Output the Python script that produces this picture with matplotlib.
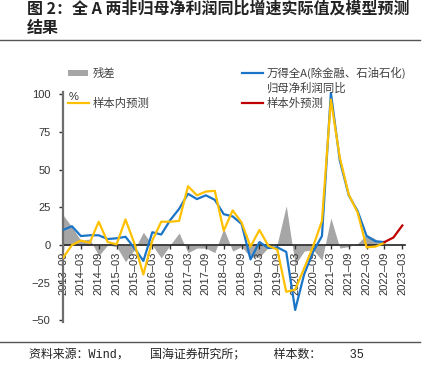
import matplotlib
matplotlib.use("Agg")
import matplotlib.pyplot as plt
from matplotlib.lines import Line2D
from matplotlib.patches import Rectangle

plt.rcParams['font.family'] = ['Liberation Sans', 'Noto Sans CJK SC', 'DejaVu Sans']
plt.rcParams['axes.unicode_minus'] = True

# ---------------- data ----------------
quarters = ['2013-09', '2013-12', '2014-03', '2014-06', '2014-09', '2014-12',
            '2015-03', '2015-06', '2015-09', '2015-12', '2016-03', '2016-06',
            '2016-09', '2016-12', '2017-03', '2017-06', '2017-09', '2017-12',
            '2018-03', '2018-06', '2018-09', '2018-12', '2019-03', '2019-06',
            '2019-09', '2019-12', '2020-03', '2020-06', '2020-09', '2020-12',
            '2021-03', '2021-06', '2021-09', '2021-12', '2022-03', '2022-06',
            '2022-09', '2022-12', '2023-03']

actual = [10, 12.5, 6, 6.5, 6.5, 4, 4.5, 5.5, -2, -10.5, 8.5, 7,
          16.5, 24, 34, 30.5, 33, 30, 20.5, 19, 14, -9.5, 2, -2,
          -1.5, -4.5, -43, -19.5, -4.5, 6, 101, 56, 33, 22.5, 6, 2.5, 2]

in_sample = [-8.5, 0, 3, 1.5, 15.5, 2, 0.5, 17, 1, -19.5, 3, 15.5,
             15.5, 16, 39, 33, 35.5, 36, 9.5, 23, 15, -1, 10, -0.5,
             -3, -31, -29.5, -15.5, -1, 16, 96.5, 58, 33.5, 21.5, -1.5, -1, 1.5]

residual = [20, 12, 3, 4, -7, 0, -1, -11, -3, 8.5, 0, -8.5,
            0, 8, -5, -2, -2, -5, 11, -4, -1, -8, -8, -1.5,
            1, 26, -13, -4, -3, -10, 18, -2, -1, 1, 7, 4, 0]

out_quarters = ['2022-09', '2022-12', '2023-03']
out_sample = [2, 5, 13]

tick_labels = ['2013-09', '2014-03', '2014-09', '2015-03', '2015-09', '2016-03',
               '2016-09', '2017-03', '2017-09', '2018-03', '2018-09', '2019-03',
               '2019-09', '2020-03', '2020-09', '2021-03', '2021-09', '2022-03',
               '2022-09', '2023-03']
y_ticks = [-50, -25, 0, 25, 50, 75, 100]

# ---------------- figure ----------------
W, H = 434, 370
fig = plt.figure(figsize=(W / 100, H / 100), dpi=100)
ax = fig.add_axes([63 / W, 1 - 322 / H, (405 - 63) / W, (322 - 92) / H])

pos = {q: i for i, q in enumerate(quarters)}
x_act = [pos[q] for q in quarters[:len(actual)]]
x_out = [pos[q] for q in out_quarters]

ax.fill_between(x_act, 0, residual, color='#a6a6a6', linewidth=0, zorder=1)
ax.plot(x_act, actual, color='#1a75c9', lw=1.6, zorder=3)
ax.plot(x_act, in_sample, color='#ffc000', lw=1.6, zorder=4)
ax.plot(x_out, out_sample, color='#c00000', lw=1.6, zorder=4)

ax.set_xlim(0, 38.3)
ax.set_ylim(-51, 101.5)

for s in ['top', 'right']:
    ax.spines[s].set_visible(False)
ax.spines['left'].set_color('#6e6e6e')
ax.spines['left'].set_linewidth(1.6)
ax.spines['bottom'].set_position(('data', 0))
ax.spines['bottom'].set_color('#222222')
ax.spines['bottom'].set_linewidth(1.2)
ax.spines['bottom'].set_zorder(2)

ax.set_yticks(y_ticks)
ax.set_yticklabels([str(v).replace('-', '\u2212') for v in y_ticks])
ax.tick_params(axis='y', length=3, width=1, color='#333333', pad=6,
               labelsize=8, labelcolor='#333333')

tick_pos = [pos[q] for q in tick_labels]
ax.set_xticks(tick_pos)
ax.set_xticklabels([t.replace('-', '\u2013') for t in tick_labels], rotation=90)
ax.tick_params(axis='x', length=3, width=1, color='#333333', pad=1.5,
               labelsize=8, labelcolor='#333333')

ax.text(0.6, 101.5, '%', fontsize=8, color='#333333', ha='left', va='top')

# ---------------- legend (manual) ----------------
cjk = ['Noto Sans CJK SC', 'DejaVu Sans']
mono = ['Liberation Mono', 'Noto Sans CJK SC', 'DejaVu Sans']
def fx(px):
    return px / W
def fy(py):
    return 1 - py / H

LFS = 8.2
fig.add_artist(Rectangle((fx(68), fy(76)), (88 - 68) / W, 6 / H,
                         transform=fig.transFigure, color='#a6a6a6', lw=0))
fig.text(fx(93), fy(73), '残差', family=cjk, fontsize=LFS, color='#404040', va='center')
fig.add_artist(Line2D([fx(68), fx(89)], [fy(103), fy(103)], color='#ffc000', lw=1.6,
                      transform=fig.transFigure))
fig.text(fx(93), fy(103), '样本内预测', family=cjk, fontsize=LFS, color='#404040', va='center')

fig.add_artist(Line2D([fx(242), fx(263)], [fy(73), fy(73)], color='#1a75c9', lw=1.6,
                      transform=fig.transFigure))
fig.text(fx(267), fy(73), '万得全A(除金融、石油石化)', family=cjk, fontsize=LFS,
         color='#404040', va='center')
fig.text(fx(267), fy(88), '归母净利润同比', family=cjk, fontsize=LFS,
         color='#404040', va='center')
fig.add_artist(Line2D([fx(242), fx(263)], [fy(103), fy(103)], color='#c00000', lw=1.6,
                      transform=fig.transFigure))
fig.text(fx(267), fy(103), '样本外预测', family=cjk, fontsize=LFS, color='#404040', va='center')

# ---------------- title / footer ----------------
fig.text(fx(27), fy(9), '图 2：全 A 两非归母净利润同比增速实际值及模型预测',
         family=cjk, fontsize=11.5, fontweight='bold', color='#222222', va='center')
fig.text(fx(27), fy(28), '结果', family=cjk, fontsize=11.5, fontweight='bold',
         color='#222222', va='center')
fig.add_artist(Line2D([0, fx(420)], [fy(40), fy(40)], color='#555555', lw=1.0,
                      transform=fig.transFigure))
fig.add_artist(Line2D([0, fx(420)], [fy(342), fy(342)], color='#555555', lw=1.0,
                      transform=fig.transFigure))
fig.text(fx(29), fy(355), '资料来源：Wind，   国海证券研究所；    样本数：    35',
         family=mono, fontsize=8.6, color='#222222', va='center')

fig.savefig('out.png', dpi=100)
